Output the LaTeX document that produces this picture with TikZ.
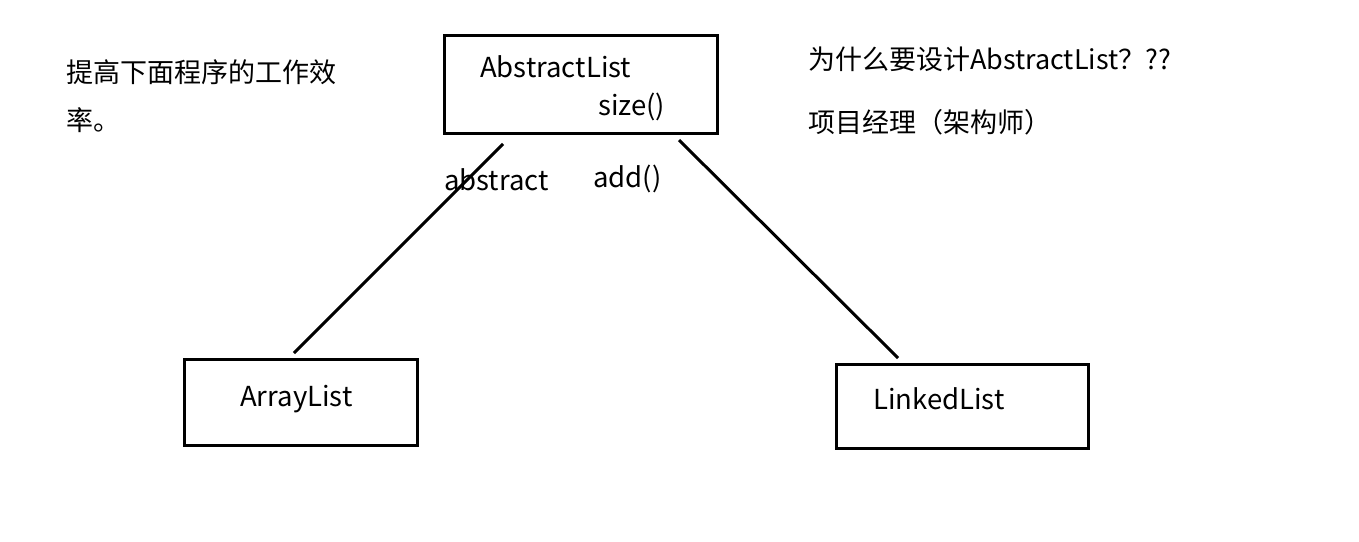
\documentclass[tikz,border=0pt]{standalone}
\usepackage{fontspec}
\setmainfont{Noto Sans CJK SC}
\newfontfamily\cjk{Noto Sans CJK SC}
\begin{document}
\begin{tikzpicture}[x=1pt,y=-1pt,
  box/.style={draw=black,line width=3pt,fill=none},
  lbl/.style={inner sep=0pt,anchor=base west,font=\fontsize{27.5}{32}\selectfont},
  zh/.style={inner sep=0pt,anchor=base west,font=\fontsize{27}{32}\selectfont},
  conn/.style={draw=black,line width=3pt}]
\useasboundingbox[fill=white] (0,0) rectangle (1359,541);
% boxes
\draw[box] (444,35) rectangle (717,133);
\draw[box] (184,359) rectangle (417,445);
\draw[box] (836,364) rectangle (1088,448);
\node[lbl] (abs) at (480,77) {AbstractList};
\node[lbl] (size) at (598,115) {size()};
\node[lbl] (arr) at (240,406) {ArrayList};
\node[lbl] (lnk) at (873,409) {LinkedList};
\node[lbl] (abstract) at (444,190) {abstract};
\node[lbl] (add) at (593,187) {add()};
\node[zh] (t1) at (66,82) {提高下面程序的工作效};
\node[zh] (t2) at (66,130) {率。};
\node[zh] (q1) at (808,69) {为什么要设计AbstractList？??};
\node[zh] (q2) at (808,132) {项目经理（架构师）};
% connectors
\coordinate (a1) at (503,144);
\coordinate (a2) at (294,353);
\coordinate (b1) at (679,140);
\coordinate (b2) at (898,358);
\draw[conn] (a1) -- (a2);
\draw[conn] (b1) -- (b2);
\end{tikzpicture}
\end{document}
